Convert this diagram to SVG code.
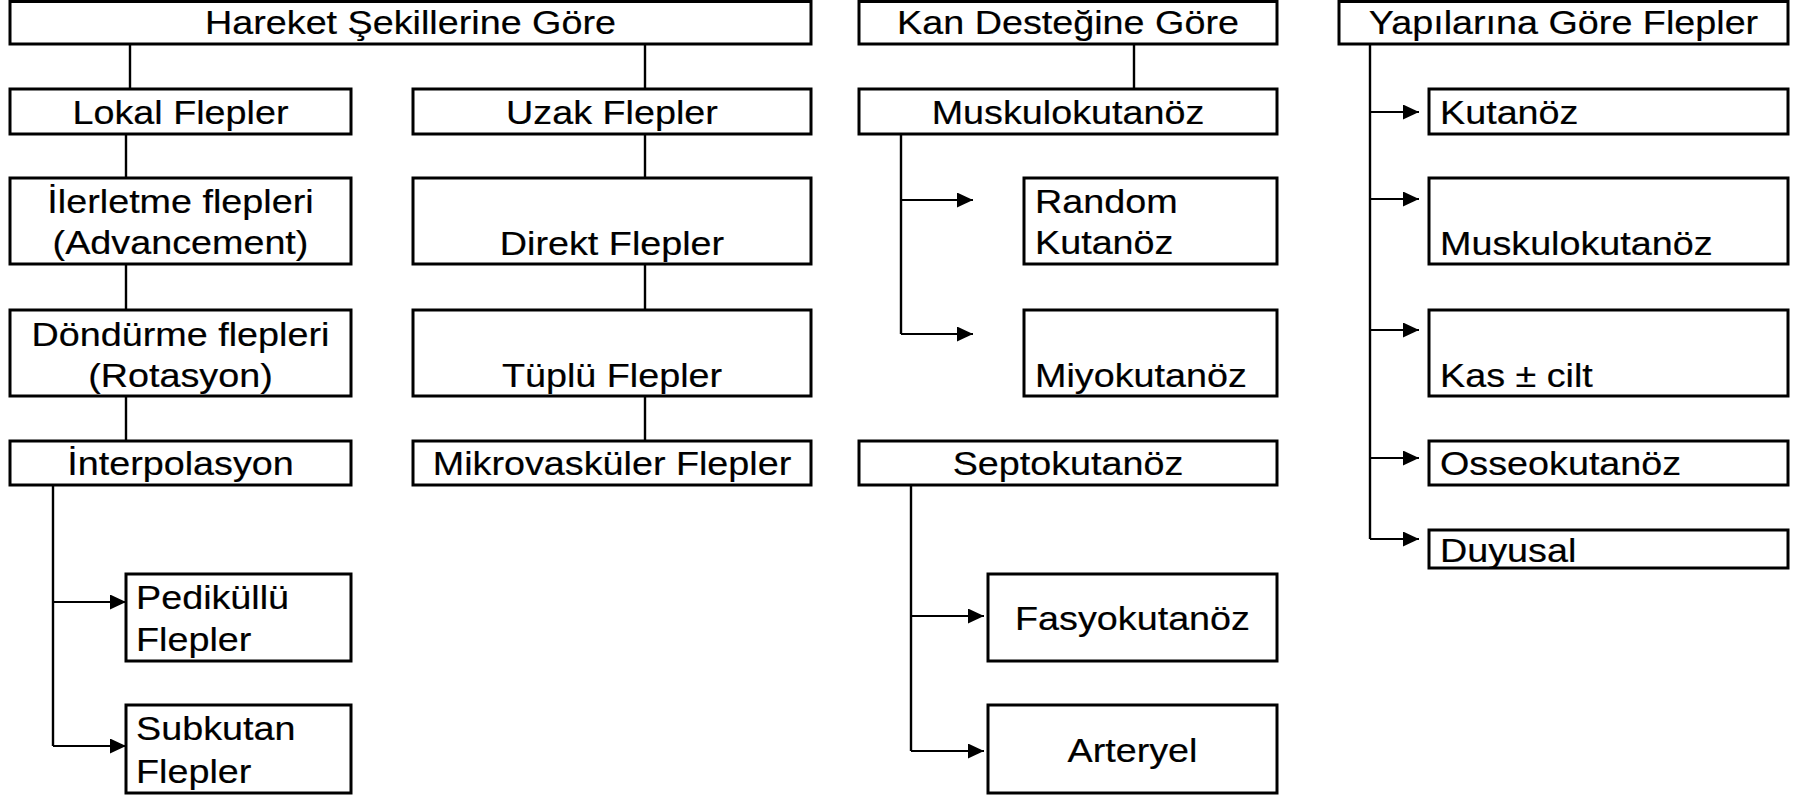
<svg xmlns="http://www.w3.org/2000/svg" width="1806" height="797" viewBox="0 0 1806 797">
<style>
rect.b{fill:#fff;stroke:#000;stroke-width:3}
text{font-family:"Liberation Sans",Arial,sans-serif;font-size:34px;fill:#000;stroke:#000;stroke-width:0.2}
text.c{text-anchor:middle}
.ln{stroke:#000;stroke-width:2.4;fill:none}
.ar{stroke:#000;stroke-width:2;fill:none;marker-end:url(#ah)}
</style>
<defs>
<marker id="ah" markerUnits="userSpaceOnUse" markerWidth="16" markerHeight="15" refX="16" refY="7.5" orient="auto">
<path d="M0,0 L16,7.5 L0,15 z" fill="#000"/>
</marker>
</defs>
<rect width="1806" height="797" fill="#fff"/>
<g id="connectors">
<path class="ln" d="M130,44V89M645,44V89M126,134V178M126,264V310M126,396V441M645,134V178M645,264V310M645,396V441M1134,44V89"/>
<path class="ln" d="M53,485V746M901,131V334M911,485V751M1370,44V539"/>
<path class="ar" d="M53,602H126"/>
<path class="ar" d="M53,746H126"/>
<path class="ar" d="M901,200H973"/>
<path class="ar" d="M901,334H973"/>
<path class="ar" d="M911,616H984"/>
<path class="ar" d="M911,751H984"/>
<path class="ar" d="M1370,112H1419"/>
<path class="ar" d="M1370,199H1419"/>
<path class="ar" d="M1370,330H1419"/>
<path class="ar" d="M1370,458H1419"/>
<path class="ar" d="M1370,539H1419"/>
</g>
<g id="hareket"><rect class="b" x="10" y="1.5" width="801" height="42.5"/><text class="c" transform="matrix(1.11 0 0 1 410.5 34)">Hareket Şekillerine Göre</text></g>
<g id="lokal"><rect class="b" x="10" y="89" width="341" height="45"/><text class="c" transform="matrix(1.11 0 0 1 180.5 124)">Lokal Flepler</text></g>
<g id="ilerletme"><rect class="b" x="10" y="178" width="341" height="86"/><text class="c" transform="matrix(1.11 0 0 1 180.5 213)">İlerletme flepleri</text><text class="c" transform="matrix(1.11 0 0 1 180.5 254)">(Advancement)</text></g>
<g id="dondurme"><rect class="b" x="10" y="310" width="341" height="86"/><text class="c" transform="matrix(1.11 0 0 1 180.5 346)">Döndürme flepleri</text><text class="c" transform="matrix(1.11 0 0 1 180.5 387)">(Rotasyon)</text></g>
<g id="interpolasyon"><rect class="b" x="10" y="441" width="341" height="44"/><text class="c" transform="matrix(1.11 0 0 1 180.5 475)">İnterpolasyon</text></g>
<g id="pedikullu"><rect class="b" x="126" y="574" width="225" height="87"/><text transform="matrix(1.11 0 0 1 136 609)">Pediküllü</text><text transform="matrix(1.11 0 0 1 136 651)">Flepler</text></g>
<g id="subkutan"><rect class="b" x="126" y="705" width="225" height="88"/><text transform="matrix(1.11 0 0 1 136 740)">Subkutan</text><text transform="matrix(1.11 0 0 1 136 783)">Flepler</text></g>
<g id="uzak"><rect class="b" x="413" y="89" width="398" height="45"/><text class="c" transform="matrix(1.11 0 0 1 612 124)">Uzak Flepler</text></g>
<g id="direkt"><rect class="b" x="413" y="178" width="398" height="86"/><text class="c" transform="matrix(1.11 0 0 1 612 255)">Direkt Flepler</text></g>
<g id="tuplu"><rect class="b" x="413" y="310" width="398" height="86"/><text class="c" transform="matrix(1.11 0 0 1 612 387)">Tüplü Flepler</text></g>
<g id="mikro"><rect class="b" x="413" y="441" width="398" height="44"/><text class="c" transform="matrix(1.11 0 0 1 612 475)">Mikrovasküler Flepler</text></g>
<g id="kan"><rect class="b" x="859" y="1.5" width="418" height="42.5"/><text class="c" transform="matrix(1.11 0 0 1 1068 34)">Kan Desteğine Göre</text></g>
<g id="muskulokutanoz1"><rect class="b" x="859" y="89" width="418" height="45"/><text class="c" transform="matrix(1.11 0 0 1 1068 124)">Muskulokutanöz</text></g>
<g id="random"><rect class="b" x="1024" y="178" width="253" height="86"/><text transform="matrix(1.11 0 0 1 1035 213)">Random</text><text transform="matrix(1.11 0 0 1 1035 254)">Kutanöz</text></g>
<g id="miyo"><rect class="b" x="1024" y="310" width="253" height="86"/><text transform="matrix(1.11 0 0 1 1035 387)">Miyokutanöz</text></g>
<g id="septo"><rect class="b" x="859" y="441" width="418" height="44"/><text class="c" transform="matrix(1.11 0 0 1 1068 475)">Septokutanöz</text></g>
<g id="fasyo"><rect class="b" x="988" y="574" width="289" height="87"/><text class="c" transform="matrix(1.11 0 0 1 1132.5 630)">Fasyokutanöz</text></g>
<g id="arteryel"><rect class="b" x="988" y="705" width="289" height="88"/><text class="c" transform="matrix(1.11 0 0 1 1132.5 762)">Arteryel</text></g>
<g id="yapi"><rect class="b" x="1339" y="1.5" width="449" height="42.5"/><text class="c" transform="matrix(1.11 0 0 1 1563.5 34)">Yapılarına Göre Flepler</text></g>
<g id="kutanoz"><rect class="b" x="1429" y="89" width="359" height="45"/><text transform="matrix(1.11 0 0 1 1440 124)">Kutanöz</text></g>
<g id="muskulokutanoz2"><rect class="b" x="1429" y="178" width="359" height="86"/><text transform="matrix(1.11 0 0 1 1440 255)">Muskulokutanöz</text></g>
<g id="kas"><rect class="b" x="1429" y="310" width="359" height="86"/><text transform="matrix(1.11 0 0 1 1440 387)">Kas ± cilt</text></g>
<g id="osseo"><rect class="b" x="1429" y="441" width="359" height="44"/><text transform="matrix(1.11 0 0 1 1440 475)">Osseokutanöz</text></g>
<g id="duyusal"><rect class="b" x="1429" y="530" width="359" height="38"/><text transform="matrix(1.11 0 0 1 1440 562)">Duyusal</text></g>
</svg>
